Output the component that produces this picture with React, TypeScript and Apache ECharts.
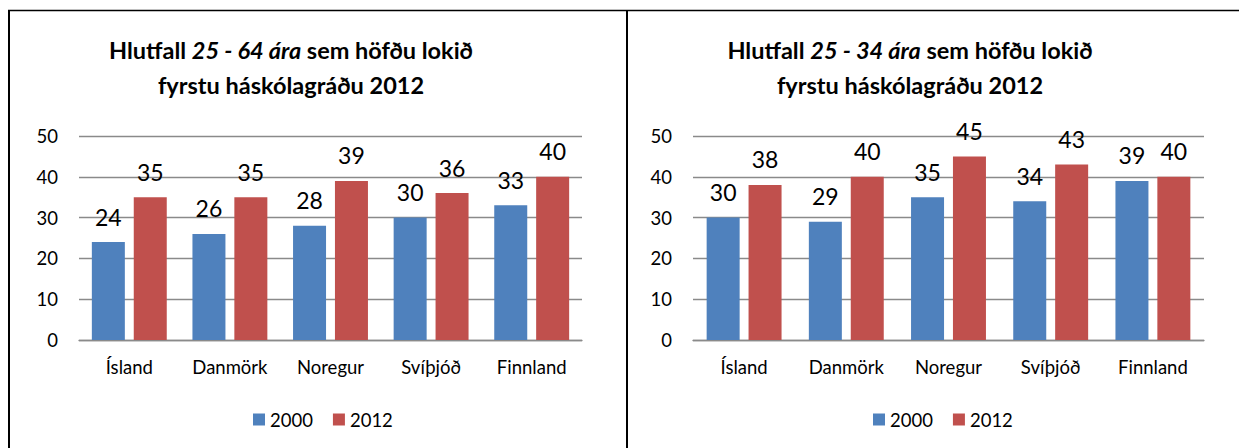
import React, { useEffect, useRef } from "react";
import * as echarts from "echarts";

const categories = ["Ísland", "Danmörk", "Noregur", "Svíþjóð", "Finnland"];
const seriesNames = ["2000", "2012"];
const left2000 = [24, 26, 28, 30, 33];
const left2012 = [35, 35, 39, 36, 40];
const right2000 = [30, 29, 35, 34, 39];
const right2012 = [38, 40, 45, 43, 40];
const yTicks = { min: 0, max: 50, interval: 10 };

const FONT = "Lato, 'Open Sans', sans-serif";
const BLUE = "#4F81BD";
const RED = "#C0504D";
const GRID = "#8a8a8a";

export default function App() {
  const ref = useRef<HTMLDivElement>(null);
  useEffect(() => {
    if (!ref.current) return;
    const chart = echarts.init(ref.current, undefined, { renderer: "svg" });
    const mkX = (gi: number) => ({
      type: "category",
      gridIndex: gi,
      data: categories,
      axisLine: { show: true, lineStyle: { color: GRID, width: 1.3 } },
      axisTick: { show: false },
      axisLabel: { color: "#000", fontFamily: FONT, fontSize: 18.5, margin: 17 },
    });
    const mkY = (gi: number) => ({
      type: "value",
      gridIndex: gi,
      min: yTicks.min,
      max: yTicks.max,
      interval: yTicks.interval,
      axisLine: { show: false },
      axisTick: { show: false },
      axisLabel: { color: "#000", fontFamily: FONT, fontSize: 18.5, margin: 21 },
      splitLine: { lineStyle: { color: GRID, width: 1.3 } },
    });
    const label = {
      show: true,
      position: "top",
      distance: 14,
      color: "#000",
      fontFamily: FONT,
      fontSize: 23,
    };
    const mkBar = (name: string, data: number[], gi: number, color: string) => ({
      type: "bar",
      name,
      xAxisIndex: gi,
      yAxisIndex: gi,
      data,
      barWidth: 33,
      barGap: "27%",
      itemStyle: { color },
      label,
    });
    const titleRich = {
      b: { fontFamily: FONT, fontWeight: "bold", fontSize: 23.5, color: "#000", lineHeight: 35 },
      bi: { fontFamily: FONT, fontWeight: "bold", fontStyle: "italic", fontSize: 23.5, color: "#000", lineHeight: 35 },
    };
    const legendCommon = {
      data: seriesNames,
      icon: "rect",
      itemWidth: 12,
      itemHeight: 12,
      itemGap: 20,
      textStyle: { fontFamily: FONT, fontSize: 18.5, color: "#000" },
      top: 405,
    };
    chart.setOption({
      animation: false,
      backgroundColor: "#fff",
      title: [
        {
          text: "{b|Hlutfall }{bi|25 - 64 ára}{b| sem höfðu lokið}\n{b|fyrstu háskólagráðu 2012}",
          left: 286,
          top: 27,
          textAlign: "center",
          textStyle: { rich: titleRich },
        },
        {
          text: "{b|Hlutfall }{bi|25 - 34 ára}{b| sem höfðu lokið}\n{b|fyrstu háskólagráðu 2012}",
          left: 905,
          top: 27,
          textAlign: "center",
          textStyle: { rich: titleRich },
        },
      ],
      legend: [
        { ...legendCommon, left: 248 },
        { ...legendCommon, left: 868 },
      ],
      grid: [
        { left: 79, right: 657, top: 136, bottom: 108 },
        { left: 693, right: 35, top: 136, bottom: 108 },
      ],
      xAxis: [mkX(0), mkX(1)],
      yAxis: [mkY(0), mkY(1)],
      series: [
        { ...mkBar(seriesNames[0], left2000, 0, BLUE) },
        { ...mkBar(seriesNames[1], left2012, 0, RED) },
        { ...mkBar(seriesNames[0], right2000, 1, BLUE) },
        { ...mkBar(seriesNames[1], right2012, 1, RED) },
      ],
      graphic: [
        { type: "line", shape: { x1: 8, y1: 10.5, x2: 1239, y2: 10.5 }, style: { stroke: "#000", lineWidth: 1.5 } },
        { type: "line", shape: { x1: 9, y1: 10, x2: 9, y2: 448 }, style: { stroke: "#000", lineWidth: 2 } },
        { type: "line", shape: { x1: 627, y1: 10, x2: 627, y2: 448 }, style: { stroke: "#000", lineWidth: 2 } },
      ],
    });
    return () => chart.dispose();
  }, []);
  return (
    <div
      ref={ref}
      style={{ position: "fixed", left: 0, top: 0, width: 1239, height: 448 }}
    />
  );
}
